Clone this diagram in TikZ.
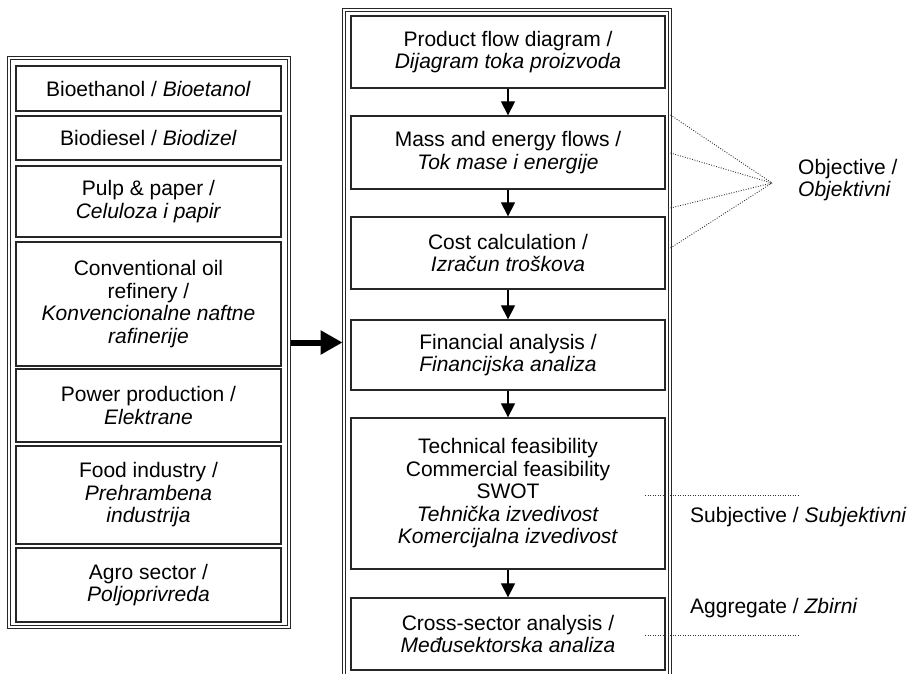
\documentclass[tikz,border=0pt]{standalone}
\usepackage{fontspec}
\setmainfont{Liberation Sans}
\usetikzlibrary{arrows.meta,calc}
\begin{document}
\begin{tikzpicture}[x=1pt,y=-1pt,
  every node/.style={font=\fontsize{21}{22.5}\selectfont},
  cont/.style={draw=black!85, double, double distance=1.6pt, line width=0.9pt, rectangle, inner sep=0pt},
  lbox/.style={draw=black!85, line width=1.3pt, rectangle, align=center, inner sep=0pt, minimum width=265pt},
  rbox/.style={draw=black!85, line width=1.3pt, rectangle, align=center, inner sep=0pt, minimum width=314pt},
  flow/.style={draw=black, line width=1.2pt, -{Triangle[length=14pt,width=14pt]}},
  bigarrow/.style={draw=black, line width=6pt, -{Triangle[length=22pt,width=23pt]}},
  dotline/.style={draw=black!80, line width=0.9pt, dash pattern=on 0.9pt off 1.6pt},
  lab/.style={anchor=west, inner sep=0pt}
]
\fill[white] (0,0) rectangle (913,673);
\useasboundingbox (0,0) rectangle (913,673);

% containers
\node[cont, minimum width=280pt, minimum height=569pt] (leftc) at (149,342.5) {};
\node[cont, minimum width=326pt, minimum height=700pt] (rightc) at (507,360) {};

% left boxes
\node[lbox, minimum height=45pt] (bioeth) at (148.5,88.5) {Bioethanol / \textit{Bioetanol}};
\node[lbox, minimum height=44pt] (biodie) at (148.5,138) {Biodiesel / \textit{Biodizel}};
\node[lbox, minimum height=71pt] (pulp) at (148.5,201.5) {Pulp \& paper /\\\textit{Celuloza i papir}};
\node[lbox, minimum height=124pt] (conv) at (148.5,304) {Conventional oil\\refinery /\\\textit{Konvencionalne naftne}\\\textit{rafinerije}};
\node[lbox, minimum height=73pt] (power) at (148.5,405.5) {Power production /\\\textit{Elektrane}};
\node[lbox, minimum height=98pt] (food) at (148.5,495) {Food industry /\\\textit{Prehrambena}\\\textit{industrija}};
\node[lbox, minimum height=74pt] (agro) at (148.5,585) {Agro sector /\\\textit{Poljoprivreda}};

% right boxes
\node[rbox, minimum height=72pt] (pfd) at (508,52) {Product flow diagram /\\\textit{Dijagram toka proizvoda}};
\node[rbox, minimum height=73pt] (mass) at (508,152.5) {Mass and energy flows /\\\textit{Tok mase i energije}};
\node[rbox, minimum height=72pt] (cost) at (508,253) {Cost calculation /\\\textit{Izračun troškova}};
\node[rbox, minimum height=70pt] (fin) at (508,355) {Financial analysis /\\\textit{Financijska analiza}};
\node[rbox, minimum height=151pt] (tech) at (508,493.5) {Technical feasibility\\Commercial feasibility\\SWOT\\\textit{Tehnička izvedivost}\\\textit{Komercijalna izvedivost}};
\node[rbox, minimum height=72pt] (cross) at (508,634) {Cross-sector analysis /\\\textit{Međusektorska analiza}};

% flow arrows
\draw[flow] (pfd.south) -- (mass.north);
\draw[flow] (mass.south) -- (cost.north);
\draw[flow] (cost.south) -- (fin.north);
\draw[flow] (fin.south) -- (tech.north);
\draw[flow] (tech.south) -- (cross.north);

% big arrow
\draw[bigarrow, shorten <=1.5pt, shorten >=1pt] (leftc.east) -- (rightc.west |- leftc.east);

% objective lines
\coordinate (obj) at (772,183);
\foreach \yy in {115,153,208,248} \draw[dotline] (rightc.east |- 0,\yy) -- (obj);

% subjective and aggregate lines
\coordinate (s1) at (645,495);
\coordinate (s2) at (798,495);
\coordinate (a1) at (645,635);
\coordinate (a2) at (798,635);
\draw[dotline] (s1) -- (s2);
\draw[dotline] (a1) -- (a2);

% labels
\node[lab, align=left] (objl) at (798,180) {Objective /\\\textit{Objektivni}};
\node[lab] (subl) at (690,517) {Subjective / \textit{Subjektivni}};
\node[lab] (aggl) at (690,608) {Aggregate / \textit{Zbirni}};
\end{tikzpicture}
\end{document}
